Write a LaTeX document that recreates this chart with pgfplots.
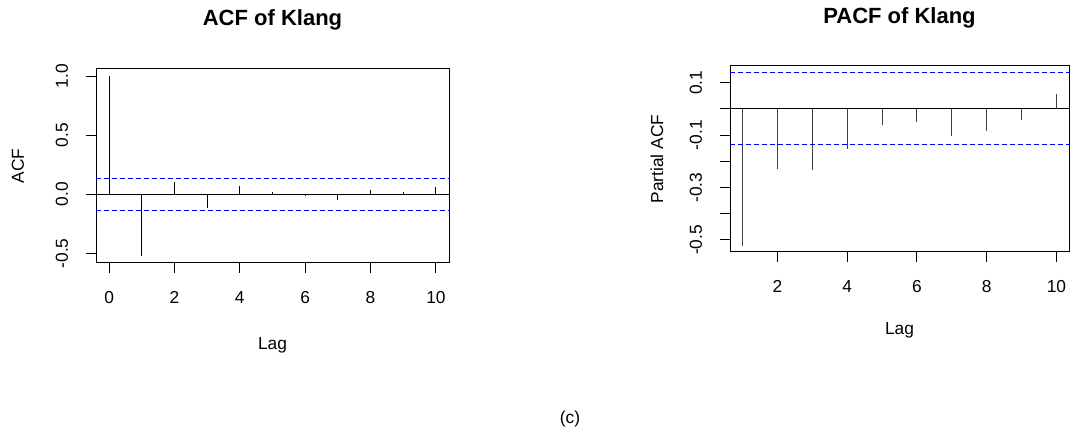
\documentclass[border=0pt]{standalone}
\usepackage{pgfplots}
\pgfplotsset{compat=1.18}
\usepackage{fontspec}
\setmainfont{Liberation Sans}

\definecolor{rblue}{RGB}{0,0,255}

% ACF / PACF values, lag on x
\pgfplotstableread{
lag acf
0 1.000
1 -0.523
2 0.107
3 -0.116
4 0.068
5 0.020
6 -0.014
7 -0.048
8 0.037
9 0.017
10 0.059
}\acfdata
\pgfplotstableread{
lag pacf
1 -0.523
2 -0.229
3 -0.234
4 -0.153
5 -0.062
6 -0.049
7 -0.105
8 -0.084
9 -0.042
10 0.058
}\pacfdata

\pgfplotsset{
  racf/.style={
    scale only axis,
    /pgf/number format/assume math mode=true,
    axis line style={black, line width=0.75pt},
    tick align=outside,
    major tick length=7.5pt,
    tick style={black, line width=0.75pt},
    xtick pos=left, ytick pos=left,
    ticklabel style={font=\fontsize{13}{15}\selectfont},
    yticklabel style={rotate=90, anchor=south},
    xticklabel shift=10.5pt,
    yticklabel shift=10pt,
    label style={font=\fontsize{13}{15}\selectfont},
    title style={font=\bfseries\fontsize{16.5}{19}\selectfont, anchor=center},
  },
  conf/.style={draw=rblue, line width=0.75pt, dash pattern=on 3.75pt off 2.25pt},
}

\begin{document}
\begin{tikzpicture}
\path[use as bounding box] (0,0) rectangle (802.5pt,328.5pt);

\begin{axis}[racf,
  at={(72pt,131.25pt)}, anchor=south west,
  width=264.75pt, height=145.5pt,
  xmin=-0.4, xmax=10.4, ymin=-0.5808, ymax=1.0608,
  xtick={0,2,4,6,8,10},
  ytick={-0.5,0,0.5,1}, yticklabels={-0.5,0.0,0.5,1.0},
  title={ACF of Klang},
  title style={at={(axis description cs:0.5,1)}, yshift=30.75pt},
  xlabel={Lag},
  xlabel style={at={(axis description cs:0.5,0)}, anchor=center, yshift=-61.5pt},
  ylabel={ACF},
  ylabel style={at={([xshift=-58.5pt]axis description cs:0,0.5)}, anchor=center},
]
\addplot[black, line width=0.75pt] coordinates {(-0.4,0) (10.4,0)};
\addplot[ycomb, black, line width=0.75pt, mark=none] table[x=lag, y=acf] {\acfdata};
\addplot[conf] coordinates {(-0.4,-0.138) (10.4,-0.138)};
\addplot[conf] coordinates {(-0.4,0.138) (10.4,0.138)};
\end{axis}

\begin{axis}[racf,
  at={(547.5pt,139.5pt)}, anchor=south west,
  width=254.25pt, height=139.5pt,
  xmin=0.64, xmax=10.36, ymin=-0.546, ymax=0.164,
  xtick={2,4,6,8,10},
  ytick={-0.5,-0.4,-0.3,-0.2,-0.1,0,0.1},
  yticklabels={-0.5,,-0.3,,-0.1,,0.1},
  title={PACF of Klang},
  title style={at={(axis description cs:0.5,1)}, yshift=30pt},
  xlabel={Lag},
  xlabel style={at={(axis description cs:0.5,0)}, anchor=center, yshift=-58.5pt},
  ylabel={Partial ACF},
  ylabel style={at={([xshift=-54.75pt]axis description cs:0,0.5)}, anchor=center},
]
\addplot[black, line width=0.75pt] coordinates {(0.64,0) (10.36,0)};
\addplot[ycomb, black!75, line width=0.75pt, mark=none] table[x=lag, y=pacf] {\pacfdata};
\addplot[conf] coordinates {(0.64,-0.137) (10.36,-0.137)};
\addplot[conf] coordinates {(0.64,0.139) (10.36,0.139)};
\end{axis}

\node[font=\fontsize{13}{15}\selectfont] at (427.5pt,14pt) {(c)};
\end{tikzpicture}
\end{document}
